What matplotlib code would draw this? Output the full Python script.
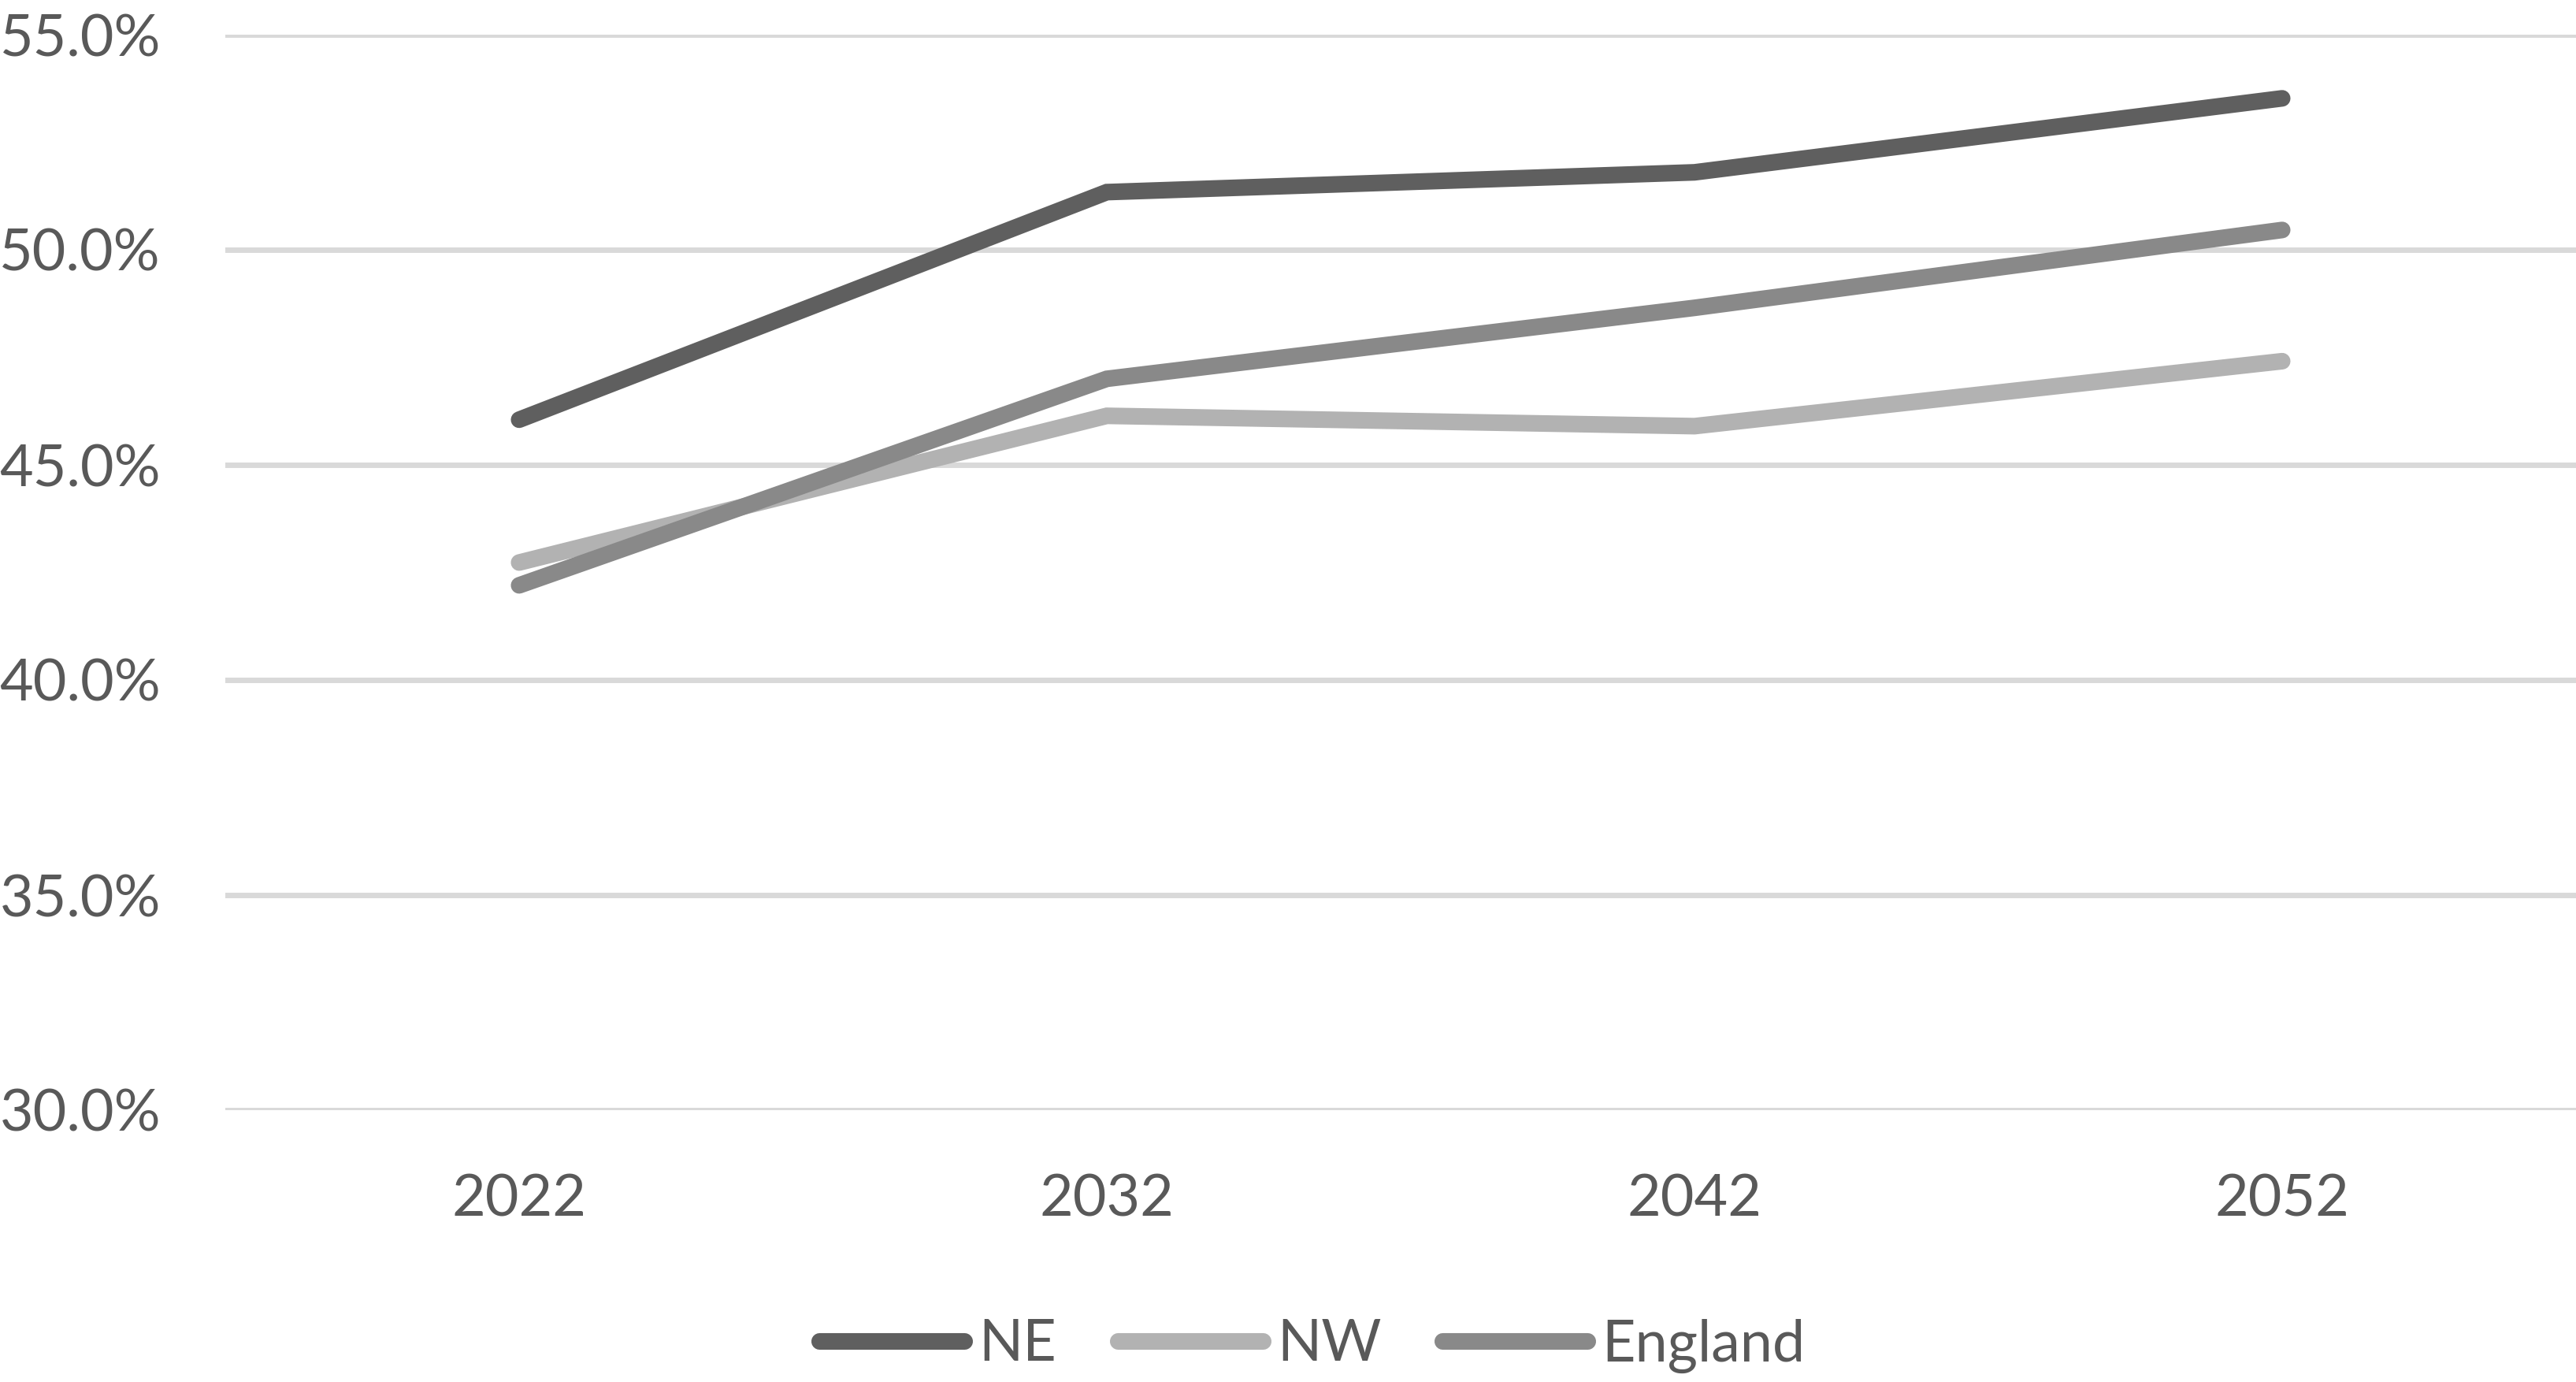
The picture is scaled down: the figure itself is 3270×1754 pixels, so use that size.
import matplotlib
matplotlib.use("Agg")
import matplotlib.pyplot as plt
from matplotlib.ticker import FuncFormatter

years = ["2022", "2032", "2042", "2052"]
ne = [46.05, 51.34, 51.80, 53.52]
nw = [42.73, 46.14, 45.90, 47.41]
england = [42.20, 47.00, 48.65, 50.46]
series_names = ["NE", "NW", "England"]
series_colors = ["#5F5F5F", "#B2B2B2", "#898989"]
y_ticks = [30, 35, 40, 45, 50, 55]

plt.rcParams['font.family'] = ['Lato', 'DejaVu Sans']
text_color = "#595959"

fig = plt.figure(figsize=(16.35, 8.77), dpi=200)
ax = fig.add_axes([286/3270, 1 - 1409/1754, 1 - 286/3270, (1409 - 44)/1754])

x = list(range(len(years)))
for name, vals, col in zip(series_names, [ne, nw, england], series_colors):
    ax.plot(x, vals, color=col, lw=7.6, solid_capstyle='round',
            solid_joinstyle='miter', label=name, zorder=3)

ax.set_xlim(-0.5, len(years) - 0.5)
ax.set_ylim(30, 55)
ax.set_yticks(y_ticks)
ax.yaxis.set_major_formatter(FuncFormatter(lambda v, p: f"{v:.1f}%"))
ax.set_xticks(x)
ax.set_xticklabels(years)
ax.grid(axis='y', color='#D9D9D9', lw=2.5, zorder=0)
ax.set_axisbelow(True)
for s in ax.spines.values():
    s.set_visible(False)
ax.tick_params(axis='both', length=0, labelsize=26.5, labelcolor=text_color)
ax.tick_params(axis='y', pad=29.5)
ax.tick_params(axis='x', pad=29)

leg = fig.legend(loc='center', bbox_to_anchor=(1666/3270, 1 - 1708/1754),
                 ncol=3, frameon=False, fontsize=26.5, handlelength=2.5,
                 handletextpad=0.25, columnspacing=1.05, labelcolor=text_color)
for h in leg.get_lines():
    h.set_solid_capstyle('round')
    h.set_linewidth(7.6)

fig.savefig("out.png", dpi=200, facecolor='white')
